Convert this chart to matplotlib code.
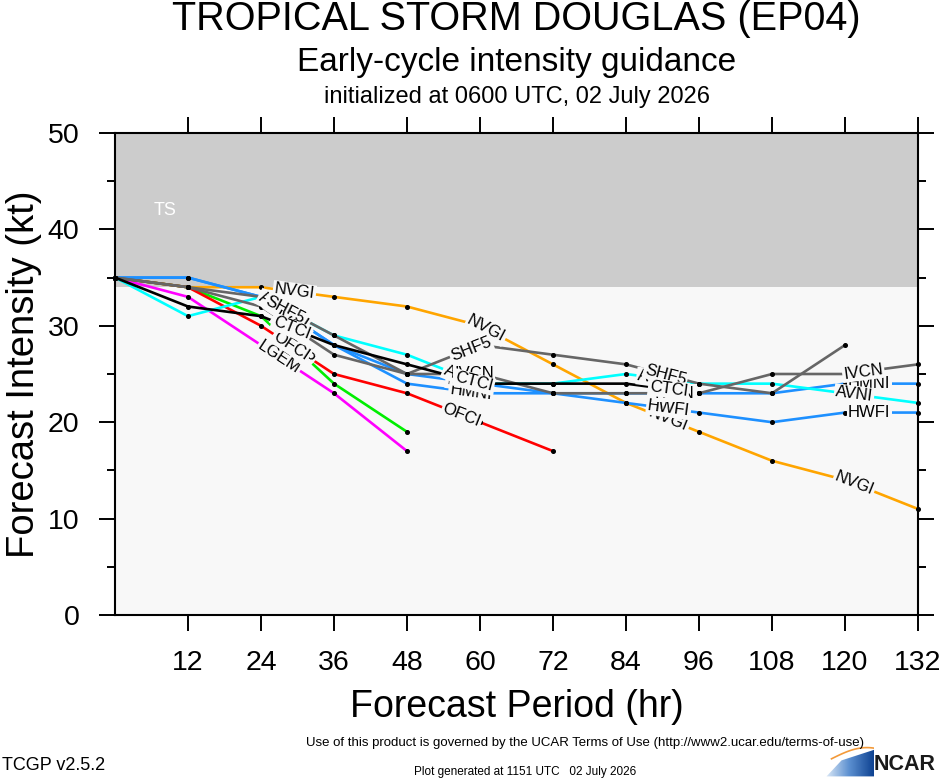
"""
Early-cycle intensity guidance plot for Tropical Storm Douglas (EP04).
"""

import numpy as np
import matplotlib

matplotlib.use("Agg")
import matplotlib.pyplot as plt
from matplotlib.patches import Polygon

plt.rcParams["font.family"] = ["Liberation Sans", "DejaVu Sans"]

# forecast hours
HOURS = [0, 12, 24, 36, 48, 60, 72, 84, 96, 108, 120, 132]

# intensity (kt) per model, starting at hour 0
NVGI = [35, 34, 34, 33, 32, 30, 26, 22, 19, 16, 14, 11]
LGEM = [35, 33, 28, 23, 17]
DSHP = [35, 34, 31, 24, 19]
OFCI = [35, 34, 30, 25, 23, 20, 17]
HWFI = [35, 35, 33, 28, 25, 24, 23, 22, 21, 20, 21, 21]
HMNI = [35, 35, 33, 28, 24, 23, 23, 23, 23, 23, 24, 24]
AVNI = [35, 31, 33, 29, 27, 24, 24, 25, 24, 24, 23, 22]
SHF5 = [35, 34, 33, 29, 25, 28, 27, 26, 24, 23, 28]
IVCN = [35, 34, 32, 27, 25, 25, 23, 23, 23, 25, 25, 26]
CTCI = [35, 32, 31, 28, 26, 24, 24, 24, 23]

MODEL_NAMES = ["NVGI", "LGEM", "DSHP", "OFCI", "HWFI", "HMNI", "AVNI", "SHF5", "IVCN", "CTCI"]
MODEL_VALUES = [NVGI, LGEM, DSHP, OFCI, HWFI, HMNI, AVNI, SHF5, IVCN, CTCI]

# styling
MODEL_COLORS = {
    "NVGI": "#ffa500",
    "LGEM": "#ff00ff",
    "DSHP": "#00ee00",
    "OFCI": "#ff0000",
    "HWFI": "#1e90ff",
    "HMNI": "#1e90ff",
    "AVNI": "#00ffff",
    "SHF5": "#666666",
    "IVCN": "#666666",
    "CTCI": "#000000",
}

# hours along each line where the model name is written
LABEL_HOURS = {
    "NVGI": [29.5, 61, 91, 121.5],
    "LGEM": [27],
    "DSHP": [29.5],
    "OFCI": [29, 57],
    "HWFI": [28, 58, 91, 124],
    "HMNI": [28.5, 58.5, 92, 124],
    "AVNI": [26.5, 57, 89, 121.5],
    "SHF5": [28, 58.5, 90.5],
    "IVCN": [29, 59, 92, 123],
    "CTCI": [29, 59, 91],
}

TS_BAND = (34, 50)
PLOT_BG = "#f8f8f8"


def label_line(ax, hours, values, name, label_hours):
    """Write the model name along its line, rotated with the segment."""
    hrs = np.array(hours[: len(values)], dtype=float)
    vals = np.array(values, dtype=float)
    for h in label_hours:
        v = np.interp(h, hrs, vals)
        i = min(np.searchsorted(hrs, h) - 1, len(hrs) - 2)
        i = max(i, 0)
        angle = np.degrees(np.arctan2(vals[i + 1] - vals[i], hrs[i + 1] - hrs[i]))
        ax.text(
            h, v, name,
            rotation=angle,
            transform_rotates_text=True,
            rotation_mode="anchor",
            ha="center", va="center",
            fontsize=12,
            color="black",
            zorder=5,
            bbox=dict(boxstyle="square,pad=0.08", fc=PLOT_BG, ec="none"),
        )


def draw_logo(fig):
    """Rough NCAR logo in the lower right corner."""
    lax = fig.add_axes([824 / 940, 1 - 778 / 780, 50 / 940, 32 / 780])
    lax.set_xlim(0, 1)
    lax.set_ylim(0, 1)
    lax.axis("off")
    grad = np.linspace(0, 1, 200).reshape(1, -1)
    im = lax.imshow(grad, extent=[0, 1, 0, 1], aspect="auto",
                    cmap=matplotlib.colors.LinearSegmentedColormap.from_list(
                        "ncar", ["#e6f0fa", "#5b8fd0", "#0b3f8f"]))
    wedge = Polygon([[0.05, 0.05], [0.35, 0.55], [1.0, 0.88], [1.0, 0.05]],
                    closed=True, transform=lax.transData, fc="none", ec="none")
    lax.add_patch(wedge)
    im.set_clip_path(wedge)
    t = np.linspace(0, 1, 50)
    lax.plot(0.15 + 0.85 * t, 0.6 + 0.35 * np.sin(np.pi * t * 0.6), color="#f39a3a", lw=1.2)
    fig.text(874 / 940, 1 - 765 / 780, "NCAR", fontsize=15.5, fontweight="bold",
             color="#1a1a1a", ha="left", va="center")


def main() -> None:
    fig = plt.figure(figsize=(9.4, 7.8), dpi=100)
    ax = fig.add_axes([115 / 940, 1 - 615 / 780, 803 / 940, 482 / 780])
    ax.set_facecolor(PLOT_BG)

    ax.axhspan(TS_BAND[0], TS_BAND[1], color="#cccccc", zorder=0, lw=0)
    ax.text(8.2, 42, "TS", color="white", fontsize=13, ha="center", va="center")

    for name, values in zip(MODEL_NAMES, MODEL_VALUES):
        hrs = HOURS[: len(values)]
        ax.plot(hrs, values, color=MODEL_COLORS[name], lw=1.9, zorder=2,
                solid_capstyle="butt")
        ax.plot(hrs, values, "o", color="black", ms=2.6, zorder=3, clip_on=False)

    for name, values in zip(MODEL_NAMES, MODEL_VALUES):
        label_line(ax, HOURS, values, name, LABEL_HOURS[name])

    ax.set_xlim(0, 132)
    ax.set_ylim(0, 50)
    ax.set_xticks(HOURS[1:])
    ax.set_yticks([0, 10, 20, 30, 40, 50])
    ax.set_yticks(np.arange(5, 50, 10), minor=True)
    ax.tick_params(axis="both", which="major", direction="out", length=11.5,
                   width=1.4, labelsize=20.5, pad=14, top=True, right=True)
    ax.tick_params(axis="y", which="minor", direction="out", length=5.8,
                   width=1.4, left=True, right=True)
    for spine in ax.spines.values():
        spine.set_linewidth(1.5)

    ax.set_xlabel("Forecast Period (hr)", fontsize=27, va="center")
    ax.set_ylabel("Forecast Intensity (kt)", fontsize=27.5, va="center")
    ax.yaxis.set_label_coords(-(115 - 24) / 803, 0.5)
    ax.xaxis.set_label_coords(0.5, -(707 - 615) / 482)

    cx = (115 + 918) / 2 / 940
    fig.text(cx, 1 - 19 / 780, "TROPICAL STORM DOUGLAS (EP04)", fontsize=28.5,
             ha="center", va="center")
    fig.text(cx, 1 - 62 / 780, "Early-cycle intensity guidance", fontsize=24,
             ha="center", va="center")
    fig.text(cx, 1 - 97 / 780, "initialized at 0600 UTC, 02 July 2026", fontsize=17,
             ha="center", va="center")

    fig.text(585 / 940, 1 - 743 / 780,
             "Use of this product is governed by the UCAR Terms of Use "
             "(http://www2.ucar.edu/terms-of-use)",
             fontsize=9.5, ha="center", va="center")
    fig.text(2 / 940, 1 - 765 / 780, "TCGP v2.5.2", fontsize=13, ha="left", va="center")
    fig.text(525 / 940, 1 - 772 / 780, "Plot generated at 1151 UTC   02 July 2026",
             fontsize=8.5, ha="center", va="center")

    draw_logo(fig)

    fig.savefig("out.png", dpi=100)
    plt.close(fig)


if __name__ == "__main__":
    main()
